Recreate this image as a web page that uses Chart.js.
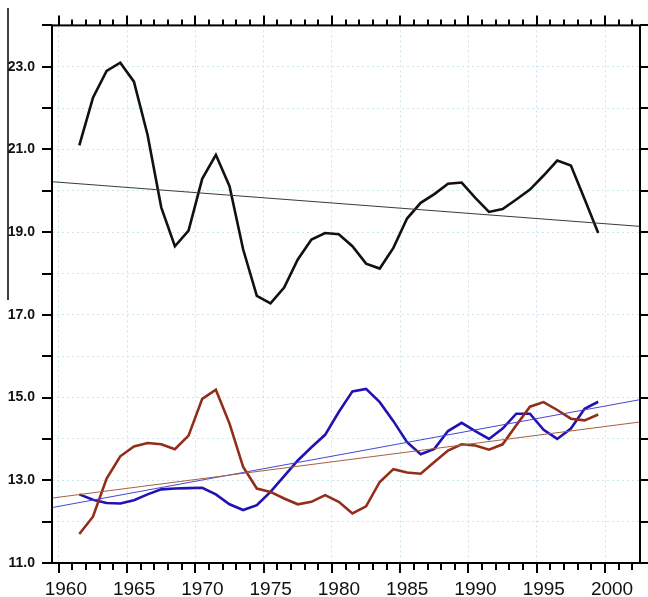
<!DOCTYPE html>
<html>
<head>
<meta charset="utf-8">
<script src="https://cdn.jsdelivr.net/npm/chart.js@4.4.1/dist/chart.umd.min.js"></script>
<style>
  html, body { margin: 0; padding: 0; background: #fff; }
  #wrap { width: 648px; height: 597px; position: relative; }
</style>
</head>
<body>
<div id="wrap"><canvas id="myChart"></canvas></div>
<script>
const years = [
  1961.5, 1962.5, 1963.5, 1964.5, 1965.5, 1966.5, 1967.5, 1968.5, 1969.5, 1970.5,
  1971.5, 1972.5, 1973.5, 1974.5, 1975.5, 1976.5, 1977.5, 1978.5, 1979.5, 1980.5,
  1981.5, 1982.5, 1983.5, 1984.5, 1985.5, 1986.5, 1987.5, 1988.5, 1989.5, 1990.5,
  1991.5, 1992.5, 1993.5, 1994.5, 1995.5, 1996.5, 1997.5, 1998.5, 1999.5
]

const blackSeries = [
  21.10, 22.25, 22.90, 23.10, 22.64, 21.35, 19.60, 18.66, 19.04, 20.29,
  20.87, 20.11, 18.58, 17.46, 17.28, 17.66, 18.34, 18.82, 18.98, 18.95,
  18.66, 18.24, 18.12, 18.62, 19.33, 19.71, 19.92, 20.17, 20.20, 19.83,
  19.49, 19.56, 19.79, 20.03, 20.37, 20.73, 20.61, 19.80, 18.98
]

const brownSeries = [
  11.70, 12.12, 13.04, 13.58, 13.82, 13.90, 13.87, 13.75, 14.08, 14.97,
  15.19, 14.37, 13.32, 12.80, 12.72, 12.56, 12.42, 12.48, 12.64, 12.48,
  12.20, 12.37, 12.96, 13.27, 13.19, 13.16, 13.44, 13.72, 13.87, 13.84,
  13.74, 13.87, 14.33, 14.78, 14.89, 14.70, 14.49, 14.45, 14.59
]

const blueSeries = [
  12.66, 12.53, 12.45, 12.44, 12.52, 12.66, 12.78, 12.80, 12.81, 12.82,
  12.66, 12.42, 12.28, 12.40, 12.72, 13.10, 13.48, 13.80, 14.10, 14.65,
  15.15, 15.21, 14.89, 14.43, 13.92, 13.63, 13.76, 14.19, 14.39, 14.19,
  14.00, 14.25, 14.61, 14.61, 14.22, 14.00, 14.25, 14.73, 14.90
]

// straight trend lines, end points at the plot edges
const trendYears = [1959.5, 2002.56]
const blackTrend = [20.22, 19.14]
const brownTrend = [12.57, 14.41]
const blueTrend = [12.34, 14.95]

const yTicks = [11, 12, 13, 14, 15, 16, 17, 18, 19, 20, 21, 22, 23, 24]
const xMin = 1959.5
const xMax = 2002.56
const yMin = 11
const yMax = 24

const pairs = (xs, ys) => xs.map((x, i) => ({ x: x, y: ys[i] }))

const gridColor = '#cbe5ea'
const fontFamily = '"Liberation Sans", Arial, Helvetica, sans-serif'

const framePlugin = {
  id: 'frame',
  afterDraw(chart) {
    const c = chart.ctx
    const a = chart.chartArea
    const xs = chart.scales.x
    const ys = chart.scales.y
    c.save()
    c.strokeStyle = '#000'
    c.lineWidth = 2
    c.strokeRect(a.left, a.top, a.right - a.left, a.bottom - a.top)
    c.beginPath()
    for (let yr = 1960; yr <= 2002; yr++) {
      const px = Math.round(xs.getPixelForValue(yr))
      const major = yr % 5 === 0
      c.moveTo(px, a.bottom)
      c.lineTo(px, a.bottom + (major ? 10 : 7))
      c.moveTo(px, a.top)
      c.lineTo(px, a.top - (major ? 10 : 6))
    }
    yTicks.forEach(v => {
      const py = Math.round(ys.getPixelForValue(v))
      c.moveTo(a.left, py)
      c.lineTo(a.left - 10, py)
      c.moveTo(a.right, py)
      c.lineTo(a.right + 8, py)
    })
    c.stroke()
    // stray scan line at the left edge of the figure
    c.lineWidth = 1.5
    c.beginPath()
    c.moveTo(8, 8)
    c.lineTo(8, 300)
    c.stroke()
    c.restore()
  }
}

const lineSet = (label, data, color, width) => ({
  label: label,
  data: data,
  borderColor: color,
  backgroundColor: color,
  borderWidth: width,
  pointRadius: 0,
  tension: 0,
  fill: false
})

const data = {
  datasets: [
    lineSet('black trend', pairs(trendYears, blackTrend), '#3a3a3a', 1),
    lineSet('brown trend', pairs(trendYears, brownTrend), '#a8603f', 1),
    lineSet('blue trend', pairs(trendYears, blueTrend), '#4646d2', 1),
    lineSet('black', pairs(years, blackSeries), '#111111', 2.6),
    lineSet('brown', pairs(years, brownSeries), '#922d18', 2.6),
    lineSet('blue', pairs(years, blueSeries), '#2312b2', 2.6)
  ]
}

const options = {
  responsive: false,
  animation: false,
  layout: { padding: { top: 22, right: 8, left: 0, bottom: 0 } },
  plugins: {
    legend: { display: false },
    tooltip: { enabled: false }
  },
  scales: {
    x: {
      type: 'linear',
      min: xMin,
      max: xMax,
      afterFit: s => { s.height = 34 },
      ticks: {
        stepSize: 5,
        includeBounds: false,
        autoSkip: false,
        maxRotation: 0,
        padding: 15,
        labelOffset: 7,
        color: '#111',
        font: { family: fontFamily, size: 19 },
        callback: v => String(v)
      },
      grid: { color: gridColor, lineWidth: 1, drawTicks: false },
      border: { display: false, dash: [2, 3] }
    },
    y: {
      type: 'linear',
      min: yMin,
      max: yMax,
      afterFit: s => { s.width = 52 },
      ticks: {
        stepSize: 1,
        autoSkip: false,
        padding: 17,
        color: '#111',
        font: { family: fontFamily, size: 14, weight: 'bold' },
        callback: v => (v % 2 === 1 ? v.toFixed(1) : '')
      },
      grid: { color: gridColor, lineWidth: 1, drawTicks: false },
      border: { display: false, dash: [2, 3] }
    }
  }
}

const canvas = document.getElementById('myChart')
canvas.width = 648
canvas.height = 597
const myChart = new Chart(canvas.getContext('2d'), {
  type: 'line',
  data: data,
  options: options,
  plugins: [framePlugin]
})
</script>
</body>
</html>
